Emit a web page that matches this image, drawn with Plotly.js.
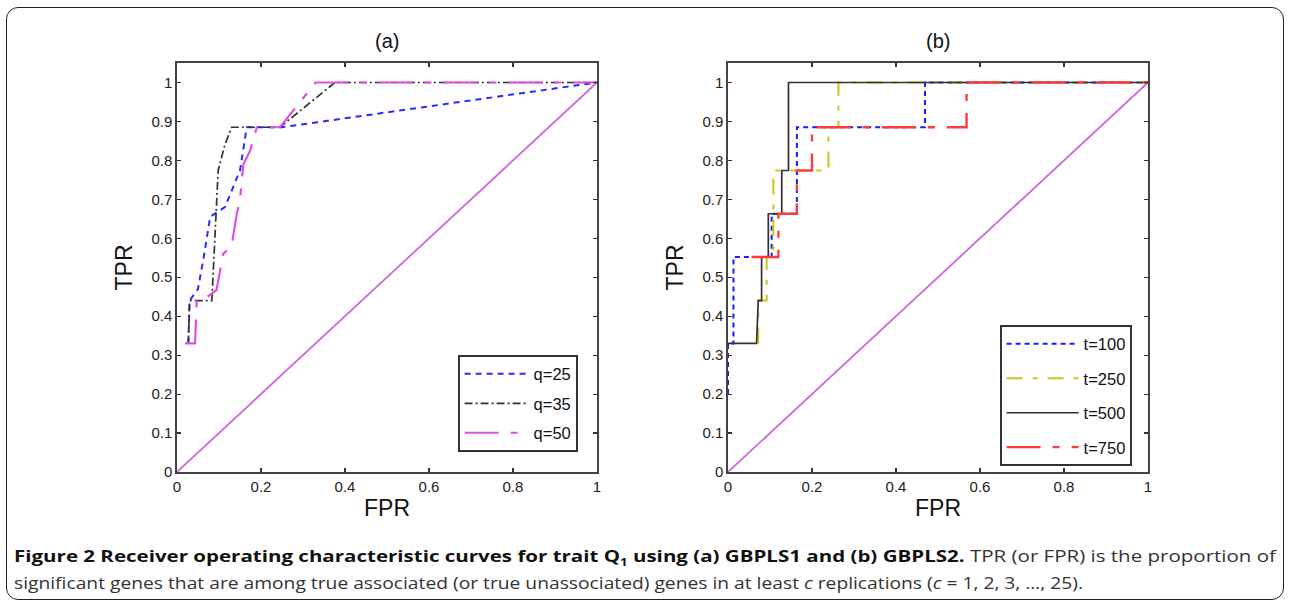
<!DOCTYPE html>
<html>
<head>
<meta charset="utf-8">
<script src="https://cdn.plot.ly/plotly-3.0.1.min.js"></script>
<style>
  html, body { margin:0; padding:0; background:#fff; width:1289px; height:604px; overflow:hidden; }
  #frame { position:absolute; left:6px; top:7px; width:1276px; height:591px; border:1.5px solid #222; border-radius:12px; pointer-events:none; }
  #chart { position:absolute; left:0; top:0; width:1289px; height:604px; }
  .cap { position:absolute; left:14px; white-space:nowrap; font-family:"Open Sans", "Liberation Sans", sans-serif; font-size:15.5px; line-height:20px; color:#333; transform-origin:0 50%; }
  .cap b { color:#111; }
  .cap sub { font-size:10px; line-height:0; }
</style>
</head>
<body>
<div id="chart"></div>
<div id="frame"></div>
<div id="cap1" class="cap" style="top:546px;"><b>Figure 2 Receiver operating characteristic curves for trait Q<sub>1</sub> using (a) GBPLS1 and (b) GBPLS2.</b> TPR (or FPR) is the proportion of</div>
<div id="cap2" class="cap" style="top:573px;">significant genes that are among true associated (or true unassociated) genes in at least <i>c</i> replications (<i>c</i> = 1, 2, 3, …, 25).</div>
<script>
// ---- Panel (a): GBPLS1 ----
const q25_fpr = [0.027, 0.030, 0.050, 0.065, 0.079, 0.114, 0.150, 0.166, 0.250, 1.000];
const q25_tpr = [0.330, 0.440, 0.470, 0.560, 0.655, 0.680, 0.774, 0.885, 0.885, 1.000];
const q35_fpr = [0.027, 0.030, 0.083, 0.090, 0.094, 0.098, 0.114, 0.130, 0.245, 0.376, 1.000];
const q35_tpr = [0.330, 0.440, 0.440, 0.600, 0.710, 0.774, 0.840, 0.885, 0.885, 1.000, 1.000];
const q50_fpr = [0.019, 0.043, 0.047, 0.060, 0.094, 0.110, 0.130, 0.142, 0.150, 0.158, 0.174, 0.190, 0.245, 0.330, 1.000];
const q50_tpr = [0.330, 0.330, 0.440, 0.440, 0.467, 0.560, 0.580, 0.660, 0.700, 0.790, 0.825, 0.885, 0.885, 1.000, 1.000];
// ---- Panel (b): GBPLS2 ----
const t100_fpr = [0.000, 0.000, 0.013, 0.013, 0.104, 0.104, 0.164, 0.164, 0.469, 0.469, 1.000];
const t100_tpr = [0.200, 0.330, 0.330, 0.552, 0.552, 0.663, 0.663, 0.885, 0.885, 1.000, 1.000];
const t250_fpr = [0.072, 0.072, 0.092, 0.092, 0.108, 0.108, 0.239, 0.239, 0.263, 0.263, 1.000];
const t250_tpr = [0.330, 0.440, 0.440, 0.552, 0.552, 0.774, 0.774, 0.885, 0.885, 1.000, 1.000];
const t500_fpr = [0.000, 0.068, 0.072, 0.080, 0.080, 0.096, 0.096, 0.128, 0.128, 0.144, 0.144, 1.000];
const t500_tpr = [0.330, 0.330, 0.440, 0.440, 0.552, 0.552, 0.663, 0.663, 0.774, 0.774, 1.000, 1.000];
const t750_fpr = [0.056, 0.120, 0.120, 0.164, 0.164, 0.200, 0.200, 0.568, 0.568, 1.000];
const t750_tpr = [0.552, 0.552, 0.663, 0.663, 0.774, 0.774, 0.885, 0.885, 1.000, 1.000];
// reference diagonal
const diag = [0, 1];
const xTicks = [0, 0.2, 0.4, 0.6, 0.8, 1];
const xTickText = ["0", "0.2", "0.4", "0.6", "0.8", "1"];
const yTicks = [0, 0.1, 0.2, 0.3, 0.4, 0.5, 0.6, 0.7, 0.8, 0.9, 1];
const yTickText = ["0", "0.1", "0.2", "0.3", "0.4", "0.5", "0.6", "0.7", "0.8", "0.9", "1"];

const FONT = "Arial, 'Liberation Sans', sans-serif";
const W = 1289, H = 604;

const traces = [
  {x: diag, y: diag, xaxis:'x', yaxis:'y', mode:'lines', line:{color:'#d066e0', width:1.8}, showlegend:false, hoverinfo:'skip'},
  {x: q25_fpr, y: q25_tpr, xaxis:'x', yaxis:'y', mode:'lines', name:'q=25', legend:'legend', legendgroup:'a1', line:{color:'#2a2aff', width:2, dash:'6px,5px'}},
  {x: q35_fpr, y: q35_tpr, xaxis:'x', yaxis:'y', mode:'lines', name:'q=35', legend:'legend', legendgroup:'a2', line:{color:'#333333', width:1.7, dash:'8px,3px,2px,3px'}},
  {x: q50_fpr, y: q50_tpr, xaxis:'x', yaxis:'y', mode:'lines', name:'q=50', legend:'legend', legendgroup:'a3', line:{color:'#e050e0', width:2.2, dash:'34px,12px,7px,12px'}},

  {x: diag, y: diag, xaxis:'x2', yaxis:'y2', mode:'lines', line:{color:'#d066e0', width:1.8}, showlegend:false, hoverinfo:'skip'},
  {x: t100_fpr, y: t100_tpr, xaxis:'x2', yaxis:'y2', mode:'lines', name:'t=100', legend:'legend2', legendgroup:'b1', line:{color:'#1a1aff', width:2, dash:'5px,4px'}},
  {x: t250_fpr, y: t250_tpr, xaxis:'x2', yaxis:'y2', mode:'lines', name:'t=250', legend:'legend2', legendgroup:'b2', line:{color:'#c8c814', width:2, dash:'16px,10px,5px,10px'}},
  {x: t500_fpr, y: t500_tpr, xaxis:'x2', yaxis:'y2', mode:'lines', name:'t=500', legend:'legend2', legendgroup:'b3', line:{color:'#333333', width:1.7}},
  {x: t750_fpr, y: t750_tpr, xaxis:'x2', yaxis:'y2', mode:'lines', name:'t=750', legend:'legend2', legendgroup:'b4', line:{color:'#ff3c3c', width:2.4, dash:'34px,12px,7px,12px'}}
];

function xax(domain) {
  return {domain: domain, range:[0,1], tickvals:xTicks, ticktext:xTickText, ticks:'inside', ticklen:4, tickwidth:1.2,
    tickcolor:'#333', showline:true, linecolor:'#444', linewidth:1.6, mirror:'allticks', showgrid:false, zeroline:false,
    tickfont:{family:FONT, size:15, color:'#222'}, fixedrange:true,
    title:{text:'FPR', font:{family:FONT, size:23, color:'#111'}, standoff:6}};
}
function yax(anchor) {
  return {domain:[(H-472)/H, (H-63)/H], anchor: anchor, range:[0,1.05], tickvals:yTicks, ticktext:yTickText, ticks:'inside', ticklen:4, tickwidth:1.2,
    tickcolor:'#333', showline:true, linecolor:'#444', linewidth:1.6, mirror:'allticks', showgrid:false, zeroline:false,
    tickfont:{family:FONT, size:15, color:'#222'}, fixedrange:true,
    title:{text:'TPR', font:{family:FONT, size:23, color:'#111'}, standoff:12}};
}

const layout = {
  width: W, height: H,
  margin:{l:0, r:0, t:0, b:0},
  paper_bgcolor:'rgba(0,0,0,0)', plot_bgcolor:'#fff',
  font:{family:FONT},
  xaxis: Object.assign(xax([177/W, 597/W]), {anchor:'y'}),
  yaxis: yax('x'),
  xaxis2: Object.assign(xax([728/W, 1148/W]), {anchor:'y2'}),
  yaxis2: yax('x2'),
  legend: {x:458/W, y:(H-355)/H, xanchor:'left', yanchor:'top', bgcolor:'#fff', bordercolor:'#333', borderwidth:1.6,
    font:{family:FONT, size:16.5, color:'#111'}, itemwidth:64, tracegroupgap:5},
  legend2: {x:1000/W, y:(H-325)/H, xanchor:'left', yanchor:'top', bgcolor:'#fff', bordercolor:'#333', borderwidth:1.6,
    font:{family:FONT, size:16.5, color:'#111'}, itemwidth:72, tracegroupgap:10},
  annotations:[
    {text:'(a)', xref:'paper', yref:'paper', x:387/W, y:(H-41)/H, xanchor:'center', yanchor:'middle', showarrow:false, font:{family:FONT, size:20, color:'#111'}},
    {text:'(b)', xref:'paper', yref:'paper', x:938/W, y:(H-41)/H, xanchor:'center', yanchor:'middle', showarrow:false, font:{family:FONT, size:20, color:'#111'}}
  ],
  showlegend:true
};

Plotly.newPlot('chart', traces, layout, {staticPlot:true, displayModeBar:false});

function fit(id, target) {
  const el = document.getElementById(id);
  const w = el.getBoundingClientRect().width;
  el.style.transform = 'scaleX(' + (target / w) + ')';
}
fit('cap1', 1262);
fit('cap2', 1069);
</script>
</body>
</html>
